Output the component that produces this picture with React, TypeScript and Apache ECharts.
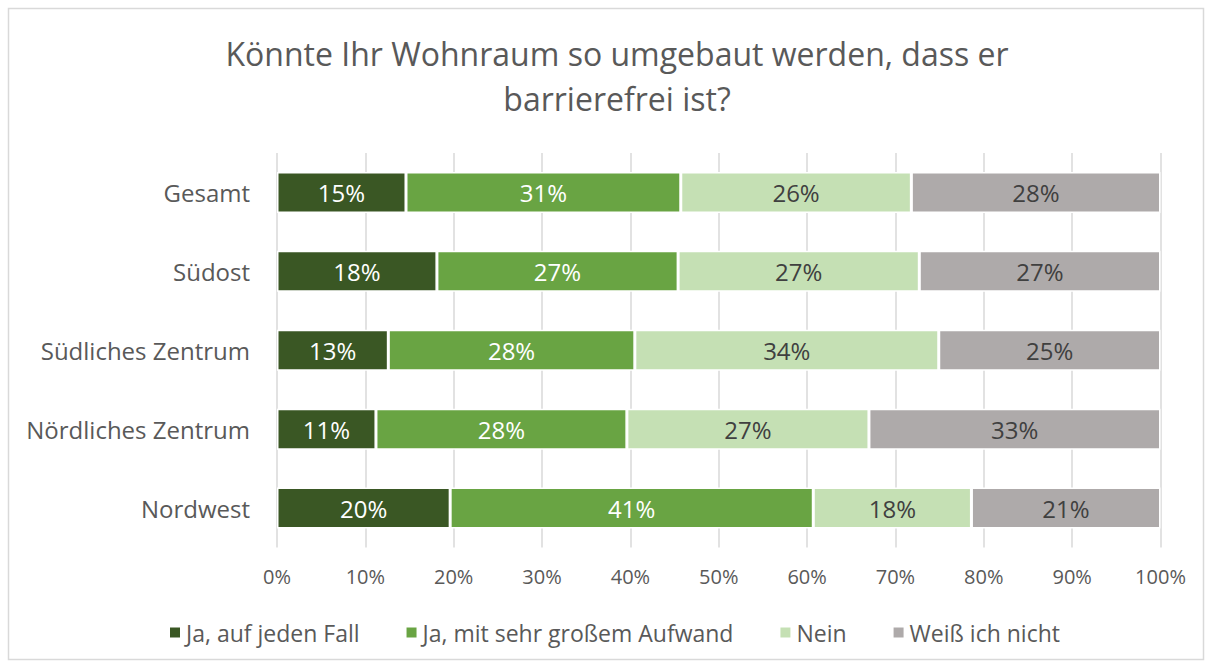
import React, { useEffect, useRef } from "react";
import * as echarts from "echarts";

const categories = ["Gesamt", "Südost", "Südliches Zentrum", "Nördliches Zentrum", "Nordwest"];
const seriesNames = ["Ja, auf jeden Fall", "Ja, mit sehr großem Aufwand", "Nein", "Weiß ich nicht"];
const jaAufJedenFall = [14.6, 18.1, 12.6, 11.2, 19.6];
const jaMitAufwand = [31.1, 27.3, 27.9, 28.4, 41.1];
const nein = [26.1, 27.3, 34.4, 27.4, 17.9];
const weissNicht = [28.2, 27.3, 25.1, 33.0, 21.4];
const xTicks = [0, 10, 20, 30, 40, 50, 60, 70, 80, 90, 100];

const colors = ["#3A5724", "#69A443", "#C5E0B4", "#AEAAAA"];
const labelColors = ["#FFFFFF", "#FFFFFF", "#404040", "#404040"];
const FONT = "'Open Sans', sans-serif";

export default function App() {
  const ref = useRef<HTMLDivElement>(null);
  useEffect(() => {
    if (!ref.current) return;
    const chart = echarts.init(ref.current, null, { renderer: "svg" });
    const values = [jaAufJedenFall, jaMitAufwand, nein, weissNicht];
    chart.setOption({
      animation: false,
      textStyle: { fontFamily: FONT },
      graphic: [
        {
          type: "rect",
          shape: { x: 8.5, y: 8.5, width: 1195, height: 651 },
          style: { fill: "none", stroke: "#D9D9D9", lineWidth: 1.5 },
          silent: true,
          z: -10,
        },
      ],
      title: {
        text: "Könnte Ihr Wohnraum so umgebaut werden, dass er\nbarrierefrei ist?",
        left: 612,
        top: 26,
        textAlign: "center",
        textStyle: {
          fontFamily: FONT,
          fontSize: 32,
          fontWeight: "normal",
          color: "#595959",
          lineHeight: 45,
        },
      },
      legend: {
        left: 163,
        top: 616,
        itemWidth: 12,
        itemHeight: 12,
        itemGap: 45,
        icon: "rect",
        textStyle: { fontFamily: FONT, fontSize: 23, color: "#595959" },
        data: seriesNames,
      },
      grid: { left: 277, right: 51.5, top: 153, bottom: 119.5, containLabel: false },
      xAxis: {
        type: "value",
        min: 0,
        max: 100,
        interval: 10,
        axisLine: { show: false },
        axisTick: { show: false },
        splitLine: { show: true, lineStyle: { color: "#D9D9D9", width: 1.5 } },
        axisLabel: {
          margin: 19,
          fontFamily: FONT,
          fontSize: 20,
          color: "#595959",
          formatter: (v: number) => (xTicks.includes(v) ? `${v}%` : ""),
        },
      },
      yAxis: {
        type: "category",
        data: categories,
        inverse: true,
        axisLine: { show: false },
        axisTick: { show: false },
        axisLabel: { margin: 27, fontFamily: FONT, fontSize: 24, color: "#595959" },
      },
      series: seriesNames.map((name, i) => ({
        name,
        type: "bar",
        stack: "total",
        barWidth: 41,
        data: values[i],
        itemStyle: { color: colors[i], borderColor: "#FFFFFF", borderWidth: 1.5 },
        label: {
          show: true,
          position: "inside",
          fontFamily: FONT,
          fontSize: 24,
          color: labelColors[i],
          formatter: (p: any) => `${Math.round(p.value)}%`,
        },
      })),
    });
    return () => chart.dispose();
  }, []);
  return (
    <div
      ref={ref}
      style={{ position: "absolute", left: 0, top: 0, width: 1212, height: 667, background: "#FFFFFF" }}
    />
  );
}
